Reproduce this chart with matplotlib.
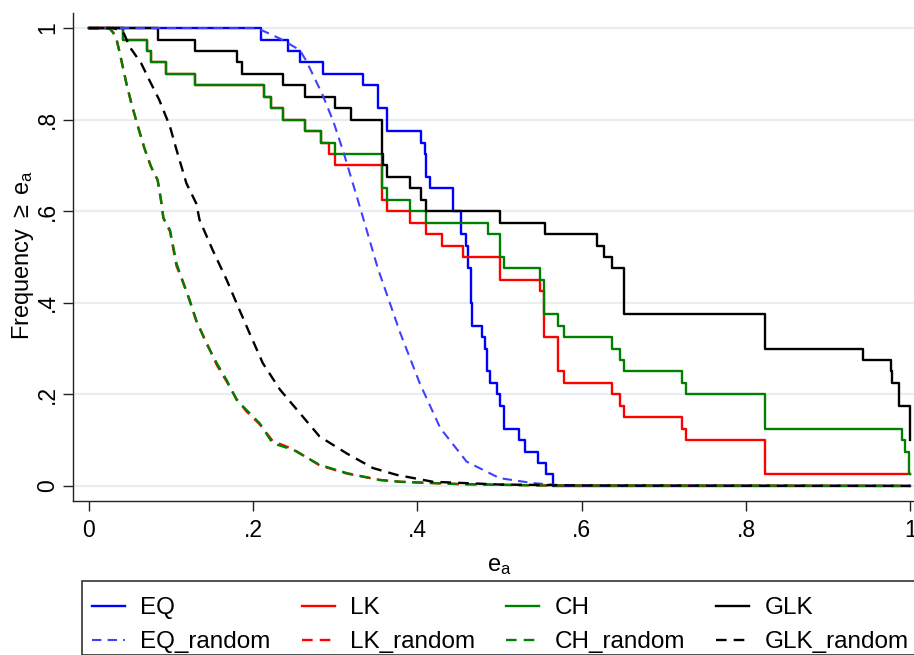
import numpy as np
import matplotlib
matplotlib.use('Agg')
import matplotlib.pyplot as plt
from matplotlib.patches import Rectangle

plt.rcParams['font.family'] = ['Liberation Sans', 'DejaVu Sans']
plt.rcParams['mathtext.fontset'] = 'custom'
plt.rcParams['mathtext.rm'] = 'Liberation Sans'
plt.rcParams['mathtext.it'] = 'Liberation Sans'

# observed distributions: x where the step falls, level after the step
eq_x = [0.210, 0.243, 0.257, 0.285, 0.334, 0.352, 0.363, 0.405, 0.409, 0.411, 0.416, 0.444,
        0.453, 0.459, 0.462, 0.465, 0.466, 0.479, 0.482, 0.485, 0.488, 0.497, 0.500, 0.505,
        0.524, 0.531, 0.547, 0.557, 0.565]
eq_y = [0.975, 0.95, 0.925, 0.9, 0.875, 0.825, 0.775, 0.75, 0.725, 0.675, 0.65, 0.6,
        0.55, 0.525, 0.475, 0.4, 0.35, 0.325, 0.3, 0.25, 0.225, 0.2, 0.175, 0.125,
        0.1, 0.075, 0.05, 0.025, 0.0]

lk_x = [0.042, 0.071, 0.076, 0.094, 0.130, 0.214, 0.222, 0.236, 0.263, 0.283, 0.293, 0.300,
        0.357, 0.363, 0.391, 0.411, 0.430, 0.455, 0.500, 0.549, 0.554, 0.571, 0.579, 0.637,
        0.647, 0.652, 0.722, 0.727, 0.823]
lk_y = [0.975, 0.95, 0.925, 0.9, 0.875, 0.85, 0.825, 0.8, 0.775, 0.75, 0.725, 0.7,
        0.625, 0.6, 0.575, 0.55, 0.525, 0.5, 0.45, 0.425, 0.325, 0.25, 0.225, 0.2,
        0.175, 0.15, 0.125, 0.1, 0.025]

ch_x = [0.042, 0.071, 0.076, 0.094, 0.130, 0.214, 0.222, 0.236, 0.263, 0.283, 0.300, 0.357,
        0.363, 0.391, 0.411, 0.486, 0.500, 0.505, 0.549, 0.554, 0.571, 0.579, 0.637, 0.647,
        0.652, 0.722, 0.727, 0.823, 0.990, 0.993, 0.998]
ch_y = [0.975, 0.95, 0.925, 0.9, 0.875, 0.85, 0.825, 0.8, 0.775, 0.75, 0.725, 0.65,
        0.625, 0.6, 0.575, 0.55, 0.5, 0.475, 0.45, 0.375, 0.35, 0.325, 0.3, 0.275,
        0.25, 0.225, 0.2, 0.125, 0.1, 0.075, 0.025]

glk_x = [0.084, 0.130, 0.181, 0.187, 0.236, 0.263, 0.300, 0.319, 0.357, 0.358, 0.363, 0.391,
         0.404, 0.411, 0.500, 0.555, 0.619, 0.627, 0.637, 0.652, 0.823, 0.942, 0.976, 0.978,
         0.986, 0.999]
glk_y = [0.975, 0.95, 0.925, 0.9, 0.875, 0.85, 0.825, 0.8, 0.725, 0.7, 0.675, 0.65,
         0.625, 0.6, 0.575, 0.55, 0.525, 0.5, 0.475, 0.375, 0.3, 0.275, 0.25, 0.225,
         0.175, 0.1]

# random benchmarks
eqr_x = [0, 0.20, 0.21, 0.233, 0.257, 0.265, 0.285, 0.298, 0.31, 0.33, 0.352, 0.379, 0.403,
         0.428, 0.46, 0.50, 0.541, 0.57, 0.60, 1.0]
eqr_y = [1, 1.0, 0.996, 0.977, 0.952, 0.928, 0.853, 0.795, 0.73, 0.61, 0.475, 0.335, 0.224,
         0.126, 0.053, 0.017, 0.006, 0.002, 0.0, 0.0]

lkr_x = [0, 0.025, 0.030, 0.034, 0.038, 0.046, 0.052, 0.060, 0.068, 0.076, 0.084, 0.088, 0.091,
         0.099, 0.107, 0.115, 0.123, 0.131, 0.143, 0.156, 0.168, 0.180, 0.192, 0.208, 0.224,
         0.249, 0.281, 0.314, 0.354, 0.379, 0.45, 0.55, 1.0]
lkr_y = [1, 1.0, 0.99, 0.975, 0.945, 0.879, 0.836, 0.785, 0.737, 0.697, 0.668, 0.625, 0.585,
         0.556, 0.480, 0.446, 0.404, 0.360, 0.315, 0.264, 0.228, 0.190, 0.163, 0.135, 0.098,
         0.080, 0.045, 0.027, 0.013, 0.009, 0.004, 0.001, 0.0]

chr_x = [0, 0.025, 0.030, 0.034, 0.038, 0.046, 0.052, 0.060, 0.068, 0.076, 0.084, 0.088, 0.091,
         0.099, 0.107, 0.115, 0.123, 0.131, 0.143, 0.156, 0.168, 0.180, 0.192, 0.208, 0.224,
         0.249, 0.281, 0.314, 0.354, 0.379, 0.45, 0.55, 1.0]
chr_y = [1, 1.0, 0.99, 0.975, 0.945, 0.879, 0.836, 0.785, 0.737, 0.697, 0.668, 0.625, 0.585,
         0.559, 0.486, 0.443, 0.406, 0.362, 0.312, 0.268, 0.231, 0.188, 0.166, 0.137, 0.093,
         0.079, 0.046, 0.028, 0.013, 0.009, 0.004, 0.001, 0.0]

glkr_x = [0, 0.030, 0.038, 0.043, 0.050, 0.064, 0.074, 0.086, 0.099, 0.107, 0.119, 0.131, 0.135,
          0.151, 0.168, 0.182, 0.196, 0.212, 0.233, 0.257, 0.281, 0.314, 0.346, 0.375, 0.419,
          0.50, 0.60, 1.0]
glkr_y = [1, 1.0, 0.995, 0.988, 0.959, 0.923, 0.886, 0.843, 0.785, 0.734, 0.661, 0.617, 0.581,
          0.515, 0.45, 0.391, 0.333, 0.268, 0.21, 0.159, 0.108, 0.071, 0.039, 0.024, 0.009,
          0.003, 0.001, 0.0]

yticks = [0, 0.2, 0.4, 0.6, 0.8, 1.0]
ytick_labels = ['0', '.2', '.4', '.6', '.8', '1']
xticks = [0, 0.2, 0.4, 0.6, 0.8, 1.0]
xtick_labels = ['0', '.2', '.4', '.6', '.8', '1']


def steps(bx, by):
    """step curve that starts at 1 and runs to x=1"""
    return [0] + list(bx) + [1.0], [1.0] + list(by) + [by[-1]]


fig = plt.figure(figsize=(9.14, 6.55), dpi=100)
W, H = 914, 655
ax = fig.add_axes([73 / W, (H - 501) / H, (926 - 73) / W, (501 - 13) / H])

blue, red, green, black = '#0000ff', '#ff0000', '#008000', '#000000'
lw = 1.7
dash = (4.5, 3)

lines = {}
for name, bx, by, c in [('EQ', eq_x, eq_y, blue), ('LK', lk_x, lk_y, red),
                        ('CH', ch_x, ch_y, green), ('GLK', glk_x, glk_y, black)]:
    x, y = steps(bx, by)
    lines[name], = ax.plot(x, y, drawstyle='steps-post', color=c, lw=lw, label=name)

for name, x, y, c, w in [('EQ_random', eqr_x, eqr_y, '#4040ff', 1.5),
                         ('LK_random', lkr_x, lkr_y, red, lw),
                         ('CH_random', chr_x, chr_y, green, lw),
                         ('GLK_random', glkr_x, glkr_y, black, lw)]:
    lines[name], = ax.plot(x, y, color=c, lw=w, dashes=dash, label=name)

ax.set_xlim(-0.019, 1.019)
ax.set_ylim(-0.033, 1.033)
ax.set_yticks(yticks)
ax.set_yticklabels(ytick_labels, rotation=90, va='center')
ax.set_xticks(xticks)
ax.set_xticklabels(xtick_labels)
ax.grid(axis='y', color='#e6eef1', lw=1.6)
ax.set_axisbelow(True)
for s in ['top', 'right']:
    ax.spines[s].set_visible(False)
for s in ['left', 'bottom']:
    ax.spines[s].set_color('#222222')
    ax.spines[s].set_linewidth(1.0)
ax.tick_params(axis='both', length=7, width=1, color='#222222', labelsize=16.5)
ax.tick_params(axis='x', pad=6)
ax.tick_params(axis='y', pad=3)

ax.set_xlabel(r'e$_\mathrm{a}$', fontsize=17)
ax.xaxis.set_label_coords(0.5, -0.11)
ax.set_ylabel(r'Frequency $\geq$ e$_\mathrm{a}$', fontsize=17)
ax.yaxis.set_label_coords(-0.043, 0.504)

# legend box, open to the right and bottom like the original crop
fig.patches.append(Rectangle((81.7 / W, 0), 1.0, (H - 581) / H, transform=fig.transFigure,
                             fill=False, edgecolor='#333333', lw=1.2))
order = ['EQ', 'EQ_random', 'LK', 'LK_random', 'CH', 'CH_random', 'GLK', 'GLK_random']
fig.legend([lines[k] for k in order], order, ncol=4, frameon=False, loc='upper left',
           bbox_to_anchor=(92 / W, 1 - 597 / H), borderaxespad=0, borderpad=0,
           handlelength=1.35, handletextpad=0.62, columnspacing=1.3, labelspacing=0.5,
           fontsize=17.5)

fig.savefig('out.png', dpi=100)
